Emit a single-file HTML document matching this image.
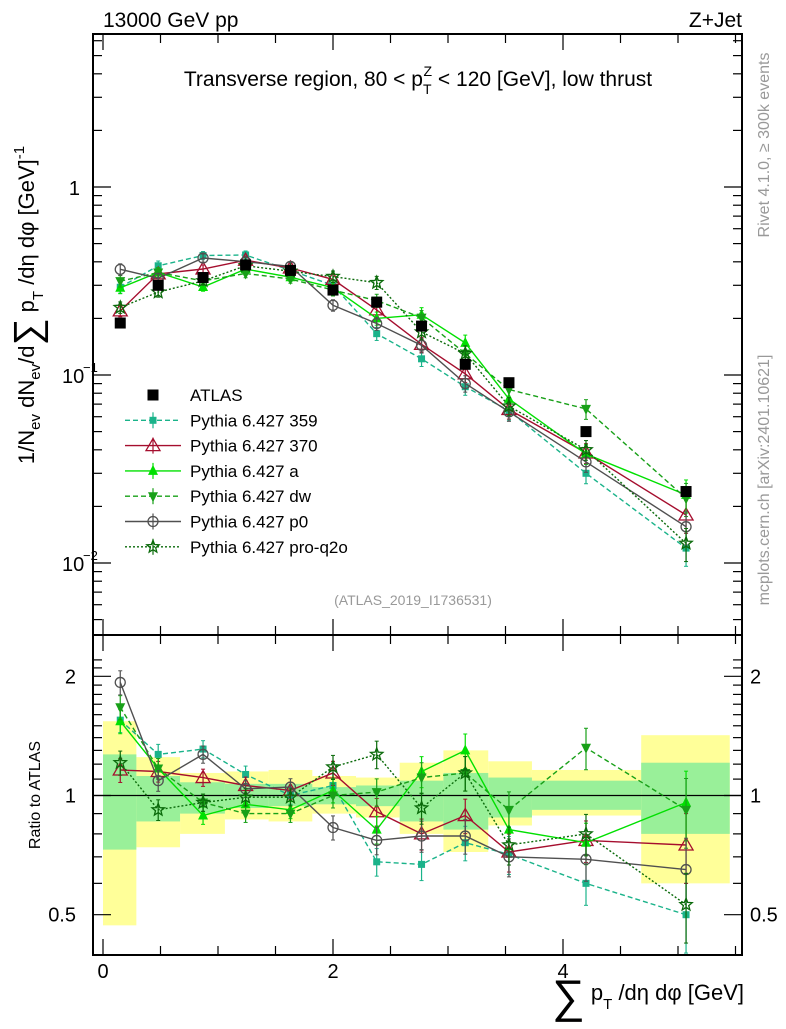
<!DOCTYPE html>
<html><head><meta charset="utf-8"><style>
body{margin:0;background:#fff;}
svg text{font-family:"Liberation Sans",sans-serif;}
</style></head><body>
<svg id="chart" width="786" height="1024" xmlns="http://www.w3.org/2000/svg"></svg>
<script>
const binCenters=[0.15,0.48,0.87,1.24,1.63,2.0,2.38,2.77,3.15,3.53,4.2,5.07];
const binEdges=[0,0.29,0.67,1.06,1.44,1.82,2.2,2.58,2.96,3.35,3.73,4.68,5.45];
const atlasValues=[0.189,0.30,0.33,0.385,0.36,0.283,0.244,0.182,0.114,0.091,0.050,0.024];
const yellowHi=[1.54,1.25,1.14,1.15,1.16,1.12,1.11,1.21,1.30,1.22,1.16,1.42];
const yellowLo=[0.47,0.74,0.80,0.87,0.86,0.90,0.88,0.80,0.72,0.84,0.89,0.60];
const greenHi=[1.27,1.12,1.08,1.07,1.07,1.05,1.06,1.09,1.14,1.11,1.09,1.21];
const greenLo=[0.73,0.86,0.90,0.93,0.94,0.95,0.94,0.86,0.82,0.88,0.92,0.80];
const ratio359=[1.55,1.27,1.31,1.13,1.0,1.06,0.68,0.67,0.76,0.71,0.60,0.50];
const ratio370=[1.16,1.15,1.11,1.06,1.03,1.14,0.91,0.80,0.89,0.72,0.77,0.75];
const ratioA=[1.54,1.17,0.89,0.95,0.92,1.03,0.82,1.15,1.30,0.82,0.76,0.96];
const ratioDW=[1.67,1.17,0.96,0.90,0.90,1.0,1.02,1.11,1.14,0.92,1.32,0.92];
const ratioP0=[1.93,1.09,1.27,1.04,1.05,0.83,0.77,0.79,0.79,0.70,0.69,0.65];
const ratioPQ=[1.21,0.92,0.96,0.99,0.99,1.18,1.27,0.93,1.14,0.75,0.80,0.53];
const relErr=[0.07,0.06,0.05,0.05,0.05,0.07,0.08,0.09,0.10,0.11,0.12,0.20];

const svg=document.getElementById('chart');
const NS='http://www.w3.org/2000/svg';
function el(tag,attrs,parent){const e=document.createElementNS(NS,tag);for(const k in attrs)e.setAttribute(k,attrs[k]);(parent||svg).appendChild(e);return e;}
const L=93,R=742,T=34,MB=635,RB=955;
const xs=v=>103+v*115;
const ym=v=>187-Math.log10(v)*188;
const yr=v=>795.5-Math.log10(v)*396;

const bandG=el('g',{});

for(let i=0;i<binCenters.length;i++){
  const x0=xs(binEdges[i]),x1=xs(binEdges[i+1]);
  const r=el('rect',{x:x0,y:yr(yellowHi[i]),width:x1-x0,height:yr(yellowLo[i])-yr(yellowHi[i]),fill:'#ffff99'},bandG);
  
}
for(let i=0;i<binCenters.length;i++){
  const x0=xs(binEdges[i]),x1=xs(binEdges[i+1]);
  const r=el('rect',{x:x0,y:yr(greenHi[i]),width:x1-x0,height:yr(greenLo[i])-yr(greenHi[i]),fill:'#99f099'},bandG);
  
}
el('line',{x1:L,x2:R,y1:yr(1),y2:yr(1),stroke:'#000','stroke-width':1.3});

function marker(g,type,x,y,c){
  const s=5.5;
  if(type==='sq')el('rect',{x:x-s,y:y-s,width:2*s,height:2*s,fill:c},g);
  else if(type==='ssq')el('rect',{x:x-3.5,y:y-3.5,width:7,height:7,fill:c},g);
  else if(type==='otri')el('polygon',{points:`${x},${y-7} ${x-7},${y+5} ${x+7},${y+5}`,fill:'none',stroke:c,'stroke-width':1.3},g);
  else if(type==='tri')el('polygon',{points:`${x},${y-6} ${x-5},${y+4} ${x+5},${y+4}`,fill:c},g);
  else if(type==='dtri')el('polygon',{points:`${x},${y+6} ${x-5},${y-4} ${x+5},${y-4}`,fill:c},g);
  else if(type==='ocirc')el('circle',{cx:x,cy:y,r:5,fill:'none',stroke:c,'stroke-width':1.3},g);
  else if(type==='star'){let p=[];for(let k=0;k<10;k++){const a=-Math.PI/2+k*Math.PI/5,rr=k%2?2.8:6.5;p.push((x+rr*Math.cos(a)).toFixed(1)+','+(y+rr*Math.sin(a)).toFixed(1));}
    el('polygon',{points:p.join(' '),fill:'none',stroke:c,'stroke-width':1.3},g);}
}
const series=[
 {name:'Pythia 6.427 359',r:ratio359,c:'#1ab38a',m:'ssq',d:'5,3'},
 {name:'Pythia 6.427 370',r:ratio370,c:'#a50e2e',m:'otri',d:''},
 {name:'Pythia 6.427 a',r:ratioA,c:'#00e000',m:'tri',d:''},
 {name:'Pythia 6.427 dw',r:ratioDW,c:'#18a018',m:'dtri',d:'5,3'},
 {name:'Pythia 6.427 p0',r:ratioP0,c:'#505050',m:'ocirc',d:''},
 {name:'Pythia 6.427 pro-q2o',r:ratioPQ,c:'#0a6a0a',m:'star',d:'2,2'}
];
series.forEach(s=>{
  [['main',v=>ym(v),i=>atlasValues[i]*s.r[i]],['ratio',v=>yr(v),i=>s.r[i]]].forEach(([pn,yf,val])=>{
    const g=el('g',{});
    
    
    const pts=binCenters.map((c,i)=>xs(c)+','+yf(val(i)).toFixed(1)).join(' ');
    el('polyline',{points:pts,fill:'none',stroke:s.c,'stroke-width':1.4,'stroke-dasharray':s.d},g);
    binCenters.forEach((c,i)=>{
      const v=val(i),e=relErr[i];
      el('line',{x1:xs(c),x2:xs(c),y1:yf(v*(1+e)),y2:yf(v*(1-e)),stroke:s.c,'stroke-width':1.2},g);
      el('line',{x1:xs(c)-2,x2:xs(c)+2,y1:yf(v*(1+e)),y2:yf(v*(1+e)),stroke:s.c},g);
      el('line',{x1:xs(c)-2,x2:xs(c)+2,y1:yf(v*(1-e)),y2:yf(v*(1-e)),stroke:s.c},g);
      marker(g,s.m,xs(c),yf(v),s.c);
    });
  });
});
const ag=el('g',{});

binCenters.forEach((c,i)=>marker(ag,'sq',xs(c),ym(atlasValues[i]),'#000'));

el('rect',{x:L,y:T,width:R-L,height:MB-T,fill:'none',stroke:'#000','stroke-width':2});
el('rect',{x:L,y:MB,width:R-L,height:RB-MB,fill:'none',stroke:'#000','stroke-width':2});
for(let v=0;v<=5.5;v+=0.5){
  const big=Math.abs(v%2)<1e-6, len=big?16:9;
  [[T,1],[MB,-1],[MB,1],[RB,-1]].forEach(([y,d])=>el('line',{x1:xs(v),x2:xs(v),y1:y,y2:y+d*len,stroke:'#000','stroke-width':1.2}));
}
for(let dec=-3;dec<=0;dec++)for(let k=1;k<=9;k++){
  const v=k*Math.pow(10,dec),y=ym(v);if(y<T||y>MB)continue;const len=k===1?18:9;
  el('line',{x1:L,x2:L+len,y1:y,y2:y,stroke:'#000','stroke-width':1.2});
  el('line',{x1:R,x2:R-len,y1:y,y2:y,stroke:'#000','stroke-width':1.2});
}
[0.5,0.6,0.7,0.8,0.9,1,1.1,1.2,1.3,1.4,1.5,1.6,1.7,1.8,1.9,2,2.1,2.2].forEach(v=>{
  const y=yr(v);if(y<MB||y>RB)return;const len=(v===0.5||v===1||v===2)?18:9;
  el('line',{x1:L,x2:L+len,y1:y,y2:y,stroke:'#000','stroke-width':1.2});
  el('line',{x1:R,x2:R-len,y1:y,y2:y,stroke:'#000','stroke-width':1.2});
});
function txt(s,attrs,name){const t=el('text',attrs);t.textContent=s;return t;}
txt('1',{x:80,y:195,'font-size':20,'text-anchor':'end'},'y-tick-1');
txt('10',{x:62,y:383,'font-size':20},'y-tick-0.1');txt('−1',{x:83,y:372,'font-size':13},'y-tick-exp');
txt('10',{x:62,y:571,'font-size':20},'y-tick-0.01');txt('−2',{x:83,y:560,'font-size':13},'y-tick-exp');
[['2',2],['1',1],['0.5',0.5]].forEach(([s,v])=>{
  txt(s,{x:76,y:yr(v)+7,'font-size':20,'text-anchor':'end'},'ratio-tick-left');
  txt(s,{x:750,y:yr(v)+7,'font-size':20},'ratio-tick-right');
});
[['0',0],['2',2],['4',4]].forEach(([s,v])=>txt(s,{x:xs(v),y:978,'font-size':20,'text-anchor':'middle'},'x-tick-'+s));
txt('13000 GeV pp',{x:103,y:27,'font-size':21},'energy-label');
txt('Z+Jet',{x:742,y:27,'font-size':21,'text-anchor':'end'},'process-label');
const ti=txt('',{x:418,y:86,'font-size':21,'text-anchor':'middle'},'plot-title');
ti.innerHTML='Transverse region, 80 &lt; p<tspan font-size="14" dy="8">T</tspan><tspan font-size="14" dx="-8" dy="-18">Z</tspan><tspan dy="10"> &lt; 120 [GeV], low thrust</tspan>';
txt('(ATLAS_2019_I1736531)',{x:413,y:605,'font-size':14,fill:'#999','text-anchor':'middle'},'analysis-id');
txt('Rivet 4.1.0, ≥ 300k events',{x:0,y:0,'font-size':16,fill:'#999','text-anchor':'middle',transform:'translate(769,145) rotate(-90)'},'rivet-label');
txt('mcplots.cern.ch [arXiv:2401.10621]',{x:0,y:0,'font-size':16,fill:'#999','text-anchor':'middle',transform:'translate(769,480) rotate(-90)'},'mcplots-label');
const yl=txt('',{x:0,y:0,'font-size':22,'text-anchor':'middle',transform:'translate(34,305) rotate(-90)'},'y-axis-title');
yl.innerHTML='1/N<tspan font-size="15" dy="6">ev</tspan><tspan dy="-6"> dN</tspan><tspan font-size="15" dy="6">ev</tspan><tspan dy="-6">/d</tspan><tspan font-size="38" dy="6">∑</tspan><tspan dy="-6"> p</tspan><tspan font-size="15" dy="9">T</tspan><tspan dy="-9"> /dη dφ  [GeV]</tspan><tspan font-size="15" dy="-10">-1</tspan>';
txt('Ratio to ATLAS',{x:0,y:0,'font-size':16,'text-anchor':'middle',transform:'translate(40,795) rotate(-90)'},'ratio-axis-title');
const xl=txt('',{x:744,y:1000,'font-size':22,'text-anchor':'end'},'x-axis-title');
xl.innerHTML='<tspan font-size="46" dy="12">∑</tspan><tspan dy="-12"> p</tspan><tspan font-size="15" dy="9">T</tspan><tspan dy="-9"> /dη dφ [GeV]</tspan>';
const lg=el('g',{});
const ly0=395,ld=25.3;
marker(lg,'sq',153,ly0,'#000');
txt('ATLAS',{x:190,y:ly0+6,'font-size':17},'legend-entry-atlas');
series.forEach((s,i)=>{
  const y=ly0+(i+1)*ld;
  el('line',{x1:125,x2:181,y1:y,y2:y,stroke:s.c,'stroke-width':1.4,'stroke-dasharray':s.d},lg);
  el('line',{x1:153,x2:153,y1:y-8,y2:y+8,stroke:s.c,'stroke-width':1.2},lg);
  marker(lg,s.m,153,y,s.c);
  txt(s.name,{x:190,y:y+6,'font-size':17},'legend-entry');
});
</script>
</body></html>
